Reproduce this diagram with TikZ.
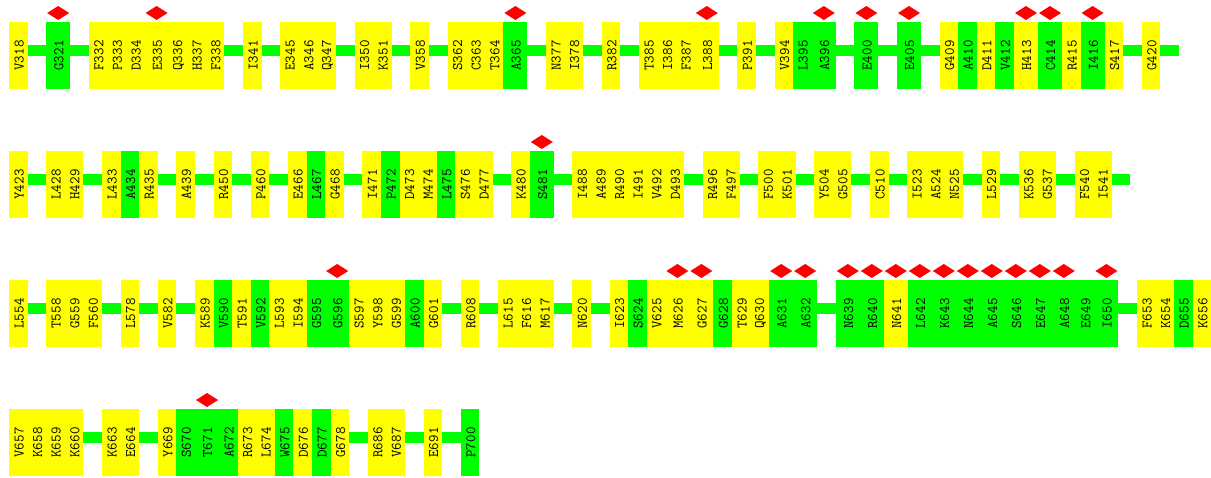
\documentclass[tikz,border=0pt]{standalone}
\usepackage{fontspec}
\usepackage{graphicx}
\usetikzlibrary{positioning,shapes.geometric}
\definecolor{yel}{HTML}{ffff00}
\definecolor{grn}{HTML}{00ff00}
\definecolor{markred}{HTML}{ff0000}
\tikzset{
  cell/.style={anchor=north west, inner sep=0pt, outer sep=0pt, minimum height=67pt,
    font=\fontsize{14.6}{16}\selectfont\ttfamily},
  flag/.style={diamond, fill=markred, inner sep=0pt, outer sep=0pt,
    minimum width=22pt, minimum height=14pt},
  link/.style={grn, line width=11pt}
}
\def\gapmark{-}
% one row of residues: #1 = top of the boxes, #2 = name/colour/mark list, -/-/0 is a gap
\newcommand{\residuerow}[2]{%
  \xdef\curx{9}\xdef\lastres{}\xdef\aftergap{0}%
  \foreach \res/\fillc/\mk in {#2}{%
    \ifx\res\gapmark
      \pgfmathsetmacro\nextx{\curx+\cellw}\xdef\curx{\nextx}\xdef\aftergap{1}%
    \else
      \pgfmathsetmacro\cellwd{\cellw+\mk*(\markw-\cellw)}%
      \node[cell, fill=\fillc, minimum width=\cellwd pt] (\res) at (\curx,#1) {\hspace{1.5pt}\rotatebox{90}{\res}};
      \ifnum\mk=1 \node[flag, above=2pt of \res] (mk\res) {}; \fi
      \ifnum\aftergap=1 \draw[link] ([yshift=5pt]\lastres.east) -- ([yshift=5pt]\res.west); \fi
      \pgfmathsetmacro\nextx{\curx+\cellwd}\xdef\curx{\nextx}%
      \xdef\lastres{\res}\xdef\aftergap{0}%
    \fi
  }%
}
\begin{document}
\begin{tikzpicture}[x=1pt,y=-1pt]
  \useasboundingbox (0,0) rectangle (1211,478);
  \def\cellw{18.6}
  \def\markw{24}

  \residuerow{22}{V318/yel/0, -/-/0, G321/grn/1, -/-/0,
    F332/yel/0, P333/yel/0, D334/yel/0, E335/yel/1, Q336/yel/0, H337/yel/0, F338/yel/0, -/-/0,
    I341/yel/0, -/-/0, E345/yel/0, A346/yel/0, Q347/yel/0, -/-/0, I350/yel/0, K351/yel/0, -/-/0,
    V358/yel/0, -/-/0, S362/yel/0, C363/yel/0, T364/yel/0, A365/grn/1, -/-/0,
    N377/yel/0, I378/yel/0, -/-/0, R382/yel/0, -/-/0,
    T385/yel/0, I386/yel/0, F387/yel/0, L388/yel/1, -/-/0, P391/yel/0, -/-/0,
    V394/yel/0, L395/grn/0, A396/grn/1, -/-/0, E400/grn/1, -/-/0, E405/grn/1, -/-/0,
    G409/yel/0, A410/grn/0, D411/yel/0, V412/grn/0, H413/yel/1, C414/grn/1, R415/yel/0,
    I416/grn/1, S417/yel/0, -/-/0, G420/yel/0} % row 1
  \coordinate (end1) at ([xshift=18.6pt,yshift=5pt]G420.east);
  \draw[link] ([yshift=5pt]G420.east) -- (end1);

  \residuerow{151}{Y423/yel/0, -/-/0, L428/yel/0, H429/yel/0, -/-/0,
    L433/yel/0, A434/grn/0, R435/yel/0, -/-/0, A439/yel/0, -/-/0, R450/yel/0, -/-/0,
    P460/yel/0, -/-/0, E466/yel/0, L467/grn/0, G468/yel/0, -/-/0,
    I471/yel/0, P472/grn/0, D473/yel/0, M474/yel/0, L475/grn/0, S476/yel/0, D477/yel/0, -/-/0,
    K480/yel/0, S481/grn/1, -/-/0,
    I488/yel/0, A489/yel/0, R490/yel/0, I491/yel/0, V492/yel/0, D493/yel/0, -/-/0,
    R496/yel/0, F497/yel/0, -/-/0, F500/yel/0, K501/yel/0, -/-/0, Y504/yel/0, G505/yel/0, -/-/0,
    C510/yel/0, -/-/0, I523/yel/0, A524/yel/0, N525/yel/0, -/-/0, L529/yel/0, -/-/0,
    K536/yel/0, G537/yel/0, -/-/0, F540/yel/0, I541/yel/0} % row 2
  \coordinate (end2) at ([xshift=18.6pt,yshift=5pt]I541.east);
  \draw[link] ([yshift=5pt]I541.east) -- (end2);

  \residuerow{280}{L554/yel/0, -/-/0, T558/yel/0, G559/yel/0, F560/yel/0, -/-/0,
    L578/yel/0, -/-/0, V582/yel/0, -/-/0,
    K589/yel/0, V590/grn/0, T591/yel/0, V592/grn/0, L593/yel/0, I594/yel/0, G595/grn/0,
    G596/grn/1, S597/yel/0, Y598/yel/0, G599/yel/0, A600/grn/0, G601/yel/0, -/-/0,
    R608/yel/0, -/-/0, L615/yel/0, F616/yel/0, M617/yel/0, -/-/0, N620/yel/0, -/-/0,
    I623/yel/0, S624/grn/0, V625/yel/0, M626/yel/1, G627/yel/1, G628/grn/0, T629/yel/0,
    Q630/yel/0, A631/grn/1, A632/grn/1, -/-/0,
    N639/grn/1, R640/grn/1, N641/yel/1, L642/grn/1, K643/grn/1, N644/grn/1, A645/grn/1,
    S646/grn/1, E647/grn/1, A648/grn/1, E649/grn/0, I650/grn/1, -/-/0,
    F653/yel/0, K654/yel/0, D655/grn/0, K656/yel/0} % row 3

  \residuerow{409}{V657/yel/0, K658/yel/0, K659/yel/0, K660/yel/0, -/-/0,
    K663/yel/0, E664/yel/0, -/-/0,
    Y669/yel/0, S670/grn/0, T671/grn/1, A672/grn/0, R673/yel/0, L674/yel/0, W675/grn/0,
    D676/yel/0, D677/grn/0, G678/yel/0, -/-/0,
    R686/yel/0, V687/yel/0, -/-/0, E691/yel/0, -/-/0, P700/grn/0} % row 4
\end{tikzpicture}
\end{document}
